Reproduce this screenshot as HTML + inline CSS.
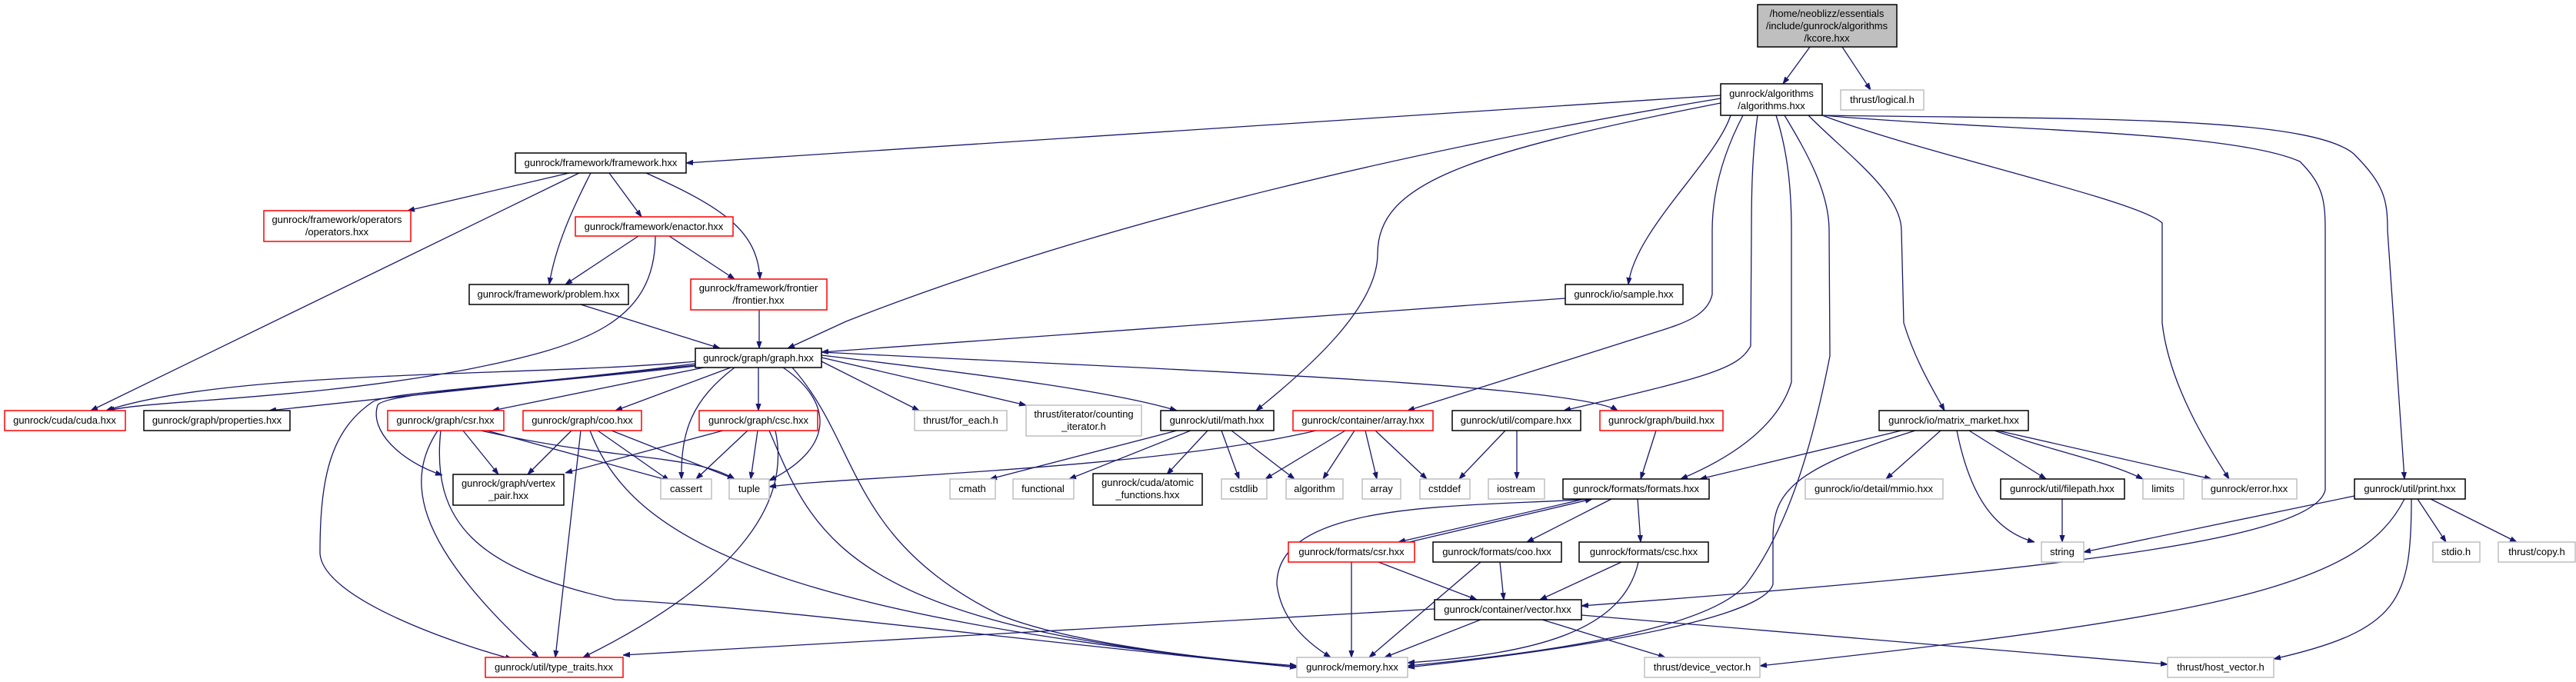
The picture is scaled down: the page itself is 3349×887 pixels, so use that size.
<!DOCTYPE html>
<html><head><meta charset="utf-8"><style>
html,body{margin:0;padding:0;background:#fff}
svg{display:block}
text{font-family:"Liberation Sans",sans-serif;font-size:13px;fill:#000}
.e{fill:none;stroke:#191970;stroke-width:1.3}
.b{fill:#fff;stroke:#000;stroke-width:1.5}
.r{fill:#fff;stroke:#ff0000;stroke-width:1.5}
.g{fill:#fff;stroke:#bfbfbf;stroke-width:1.5}
</style></head><body>
<svg width="3349" height="887" viewBox="0 0 3349 887" xmlns="http://www.w3.org/2000/svg">
<defs><marker id="a" viewBox="0 0 10 10" refX="10" refY="5" markerWidth="9" markerHeight="9" markerUnits="userSpaceOnUse" orient="auto"><path d="M0,1.5 L10,5 L0,8.5z" fill="#191970" stroke="#191970"/></marker></defs>
<g marker-end="url(#a)">
<path class="e" d="M2353,61 L2318,109"/>
<path class="e" d="M2395,61 L2432,117"/>
<path class="e" d="M2237,124 L892,212"/>
<path class="e" d="M2237,128 C1800,200 1400,300 1100,418 L1024,453"/>
<path class="e" d="M2237,134 C1900,200 1791,240 1791,330 C1791,400 1700,480 1633,534"/>
<path class="e" d="M2250,150 C2230,210 2125,300 2117,370"/>
<path class="e" d="M2266,150 C2240,200 2226,250 2226,300 L2226,383 C2220,410 2190,420 2159,430 L1830,534"/>
<path class="e" d="M2285,150 C2278,200 2277,250 2277,300 L2276,450 C2260,480 2220,490 2033,534"/>
<path class="e" d="M2309,150 C2325,200 2329,250 2329,300 L2329,497 C2310,560 2240,600 2185,623"/>
<path class="e" d="M2320,150 C2350,200 2378,250 2378,300 L2379,463 C2360,560 2330,680 2270,760 C2220,820 2000,850 1830,866"/>
<path class="e" d="M2351,150 C2400,200 2472,250 2472,300 L2475,420 C2490,470 2515,510 2528,534"/>
<path class="e" d="M2369,150 C2500,200 2780,260 2811,290 L2811,420 C2820,500 2870,580 2898,623"/>
<path class="e" d="M2369,150 C2600,170 2900,170 2990,210 C3020,240 3023,260 3023,300 L3023,637 C3010,700 2700,740 2056,788"/>
<path class="e" d="M2369,150 C2700,155 3000,150 3060,200 C3100,240 3104,260 3104,300 L3126,623"/>
<path class="e" d="M740,225 L530,274"/>
<path class="e" d="M753,225 L118,534"/>
<path class="e" d="M768,225 C745,270 722,320 714,370"/>
<path class="e" d="M792,225 L834,282"/>
<path class="e" d="M840,225 C940,270 985,300 988,363"/>
<path class="e" d="M830,307 L735,370"/>
<path class="e" d="M870,307 L955,363"/>
<path class="e" d="M852,307 C852,420 760,450 610,480 C400,520 200,520 140,534"/>
<path class="e" d="M755,396 L936,453"/>
<path class="e" d="M987,403 L987,453"/>
<path class="e" d="M2035,388 L1068,458"/>
<path class="e" d="M904,470 C700,490 300,480 138,534"/>
<path class="e" d="M904,475 L350,534"/>
<path class="e" d="M915,478 L640,534"/>
<path class="e" d="M950,478 L800,534"/>
<path class="e" d="M986,478 L986,534"/>
<path class="e" d="M955,478 C900,520 885,560 886,623"/>
<path class="e" d="M1018,478 C1080,520 1090,580 1000,625"/>
<path class="e" d="M904,476 C700,500 500,510 491,527 C480,560 520,600 575,618"/>
<path class="e" d="M904,473 C700,500 500,510 484,523 C430,560 416,620 416,720 C420,780 600,840 666,857"/>
<path class="e" d="M1030,478 C1120,580 1100,700 1300,800 C1400,840 1600,860 1686,866"/>
<path class="e" d="M1068,470 L1195,534"/>
<path class="e" d="M1068,465 L1334,527"/>
<path class="e" d="M1068,462 C1300,490 1450,510 1530,534"/>
<path class="e" d="M1068,458 C1500,480 2050,500 2103,534"/>
<path class="e" d="M602,560 L648,617"/>
<path class="e" d="M633,560 L870,625"/>
<path class="e" d="M625,560 C800,600 900,590 955,623"/>
<path class="e" d="M569,560 C530,620 530,700 700,855"/>
<path class="e" d="M573,560 C560,680 620,740 800,780 C1000,790 1300,830 1686,868"/>
<path class="e" d="M743,560 L686,617"/>
<path class="e" d="M755,560 L722,855"/>
<path class="e" d="M777,560 L870,625"/>
<path class="e" d="M795,560 L955,623"/>
<path class="e" d="M767,560 C820,700 1000,800 1686,868"/>
<path class="e" d="M940,560 L735,615"/>
<path class="e" d="M972,560 L905,623"/>
<path class="e" d="M985,560 L976,623"/>
<path class="e" d="M1008,560 C1030,660 950,760 758,855"/>
<path class="e" d="M1000,560 C1060,700 1100,820 1686,866"/>
<path class="e" d="M1530,560 L1287,623"/>
<path class="e" d="M1548,560 L1390,623"/>
<path class="e" d="M1570,560 L1517,617"/>
<path class="e" d="M1588,560 L1611,623"/>
<path class="e" d="M1601,560 L1683,623"/>
<path class="e" d="M1711,560 C1500,610 1100,620 1000,633"/>
<path class="e" d="M1749,560 L1645,623"/>
<path class="e" d="M1761,560 L1720,623"/>
<path class="e" d="M1775,560 L1790,623"/>
<path class="e" d="M1788,560 L1855,623"/>
<path class="e" d="M1957,560 L1897,623"/>
<path class="e" d="M1972,560 L1972,623"/>
<path class="e" d="M2153,560 L2133,623"/>
<path class="e" d="M2472,560 L2210,623"/>
<path class="e" d="M2490,560 C2330,610 2305,640 2305,700 L2305,760 C2290,810 2000,850 1830,868"/>
<path class="e" d="M2523,560 L2452,623"/>
<path class="e" d="M2544,560 C2560,640 2590,690 2645,705"/>
<path class="e" d="M2560,560 L2660,623"/>
<path class="e" d="M2593,560 C2680,590 2740,600 2786,623"/>
<path class="e" d="M2597,560 L2875,623"/>
<path class="e" d="M2681,649 L2681,705"/>
<path class="e" d="M3061,645 L2709,718"/>
<path class="e" d="M3126,649 C3070,760 2900,800 2288,866"/>
<path class="e" d="M3135,649 C3135,780 3120,820 2956,857"/>
<path class="e" d="M3143,649 L3180,705"/>
<path class="e" d="M3160,649 L3272,705"/>
<path class="e" d="M2060,649 L1818,705"/>
<path class="e" d="M1832,705 L2070,649"/>
<path class="e" d="M2070,649 C1900,660 1660,650 1660,760 C1665,800 1690,830 1730,855"/>
<path class="e" d="M2095,649 L1985,705"/>
<path class="e" d="M2129,649 L2133,705"/>
<path class="e" d="M1757,731 L1757,855"/>
<path class="e" d="M1792,731 L1920,780"/>
<path class="e" d="M1925,731 L1780,855"/>
<path class="e" d="M1950,731 L1955,780"/>
<path class="e" d="M2108,731 L2002,780"/>
<path class="e" d="M2130,731 C2110,820 2000,850 1830,862"/>
<path class="e" d="M1865,792 L810,852"/>
<path class="e" d="M1925,806 L1800,855"/>
<path class="e" d="M2005,806 L2165,855"/>
<path class="e" d="M2056,800 L2818,864"/>
</g>
<g>
<rect x="2285" y="6" width="181" height="55" fill="#bfbfbf" stroke="#000" stroke-width="1.5"/>
<text x="2375" y="22" text-anchor="middle">/home/neoblizz/essentials</text>
<text x="2375" y="38" text-anchor="middle">/include/gunrock/algorithms</text>
<text x="2375" y="54" text-anchor="middle">/kcore.hxx</text>
<rect class="b" x="2237" y="109" width="132" height="41"/><text x="2303" y="126" text-anchor="middle">gunrock/algorithms</text><text x="2303" y="142" text-anchor="middle">/algorithms.hxx</text>
<rect class="g" x="2393" y="117" width="108" height="26"/><text x="2447" y="134" text-anchor="middle">thrust/logical.h</text>
<rect class="b" x="670" y="199" width="222" height="26"/><text x="781" y="216" text-anchor="middle">gunrock/framework/framework.hxx</text>
<rect class="r" x="343" y="274" width="191" height="40"/><text x="438" y="290" text-anchor="middle">gunrock/framework/operators</text><text x="438" y="306" text-anchor="middle">/operators.hxx</text>
<rect class="r" x="748" y="282" width="205" height="25"/><text x="850" y="299" text-anchor="middle">gunrock/framework/enactor.hxx</text>
<rect class="b" x="610" y="370" width="207" height="26"/><text x="713" y="387" text-anchor="middle">gunrock/framework/problem.hxx</text>
<rect class="r" x="898" y="363" width="177" height="40"/><text x="986" y="379" text-anchor="middle">gunrock/framework/frontier</text><text x="986" y="395" text-anchor="middle">/frontier.hxx</text>
<rect class="b" x="2035" y="370" width="153" height="26"/><text x="2111" y="387" text-anchor="middle">gunrock/io/sample.hxx</text>
<rect class="b" x="904" y="453" width="164" height="25"/><text x="986" y="470" text-anchor="middle">gunrock/graph/graph.hxx</text>
<rect class="r" x="6" y="534" width="157" height="26"/><text x="84" y="551" text-anchor="middle">gunrock/cuda/cuda.hxx</text>
<rect class="b" x="187" y="534" width="190" height="26"/><text x="282" y="551" text-anchor="middle">gunrock/graph/properties.hxx</text>
<rect class="r" x="504" y="534" width="151" height="26"/><text x="579" y="551" text-anchor="middle">gunrock/graph/csr.hxx</text>
<rect class="r" x="680" y="534" width="154" height="26"/><text x="757" y="551" text-anchor="middle">gunrock/graph/coo.hxx</text>
<rect class="r" x="909" y="534" width="154" height="26"/><text x="986" y="551" text-anchor="middle">gunrock/graph/csc.hxx</text>
<rect class="g" x="1189" y="534" width="120" height="26"/><text x="1249" y="551" text-anchor="middle">thrust/for_each.h</text>
<rect class="g" x="1334" y="527" width="150" height="40"/><text x="1409" y="543" text-anchor="middle">thrust/iterator/counting</text><text x="1409" y="559" text-anchor="middle">_iterator.h</text>
<rect class="b" x="1509" y="534" width="147" height="26"/><text x="1582" y="551" text-anchor="middle">gunrock/util/math.hxx</text>
<rect class="r" x="1681" y="534" width="182" height="26"/><text x="1772" y="551" text-anchor="middle">gunrock/container/array.hxx</text>
<rect class="b" x="1888" y="534" width="167" height="26"/><text x="1971" y="551" text-anchor="middle">gunrock/util/compare.hxx</text>
<rect class="r" x="2080" y="534" width="160" height="26"/><text x="2160" y="551" text-anchor="middle">gunrock/graph/build.hxx</text>
<rect class="b" x="2443" y="534" width="194" height="26"/><text x="2540" y="551" text-anchor="middle">gunrock/io/matrix_market.hxx</text>
<rect class="b" x="589" y="617" width="144" height="40"/><text x="661" y="633" text-anchor="middle">gunrock/graph/vertex</text><text x="661" y="649" text-anchor="middle">_pair.hxx</text>
<rect class="g" x="859" y="623" width="66" height="26"/><text x="892" y="640" text-anchor="middle">cassert</text>
<rect class="g" x="948" y="623" width="52" height="26"/><text x="974" y="640" text-anchor="middle">tuple</text>
<rect class="g" x="1235" y="623" width="59" height="26"/><text x="1264" y="640" text-anchor="middle">cmath</text>
<rect class="g" x="1317" y="623" width="79" height="26"/><text x="1356" y="640" text-anchor="middle">functional</text>
<rect class="b" x="1421" y="616" width="142" height="41"/><text x="1492" y="632" text-anchor="middle">gunrock/cuda/atomic</text><text x="1492" y="648" text-anchor="middle">_functions.hxx</text>
<rect class="g" x="1588" y="623" width="59" height="26"/><text x="1617" y="640" text-anchor="middle">cstdlib</text>
<rect class="g" x="1672" y="623" width="74" height="26"/><text x="1709" y="640" text-anchor="middle">algorithm</text>
<rect class="g" x="1771" y="623" width="50" height="26"/><text x="1796" y="640" text-anchor="middle">array</text>
<rect class="g" x="1846" y="623" width="65" height="26"/><text x="1878" y="640" text-anchor="middle">cstddef</text>
<rect class="g" x="1935" y="623" width="73" height="26"/><text x="1971" y="640" text-anchor="middle">iostream</text>
<rect class="b" x="2032" y="623" width="190" height="26"/><text x="2127" y="640" text-anchor="middle">gunrock/formats/formats.hxx</text>
<rect class="g" x="2347" y="623" width="179" height="26"/><text x="2436" y="640" text-anchor="middle">gunrock/io/detail/mmio.hxx</text>
<rect class="b" x="2601" y="623" width="161" height="26"/><text x="2681" y="640" text-anchor="middle">gunrock/util/filepath.hxx</text>
<rect class="g" x="2786" y="623" width="53" height="26"/><text x="2812" y="640" text-anchor="middle">limits</text>
<rect class="g" x="2863" y="623" width="123" height="26"/><text x="2924" y="640" text-anchor="middle">gunrock/error.hxx</text>
<rect class="b" x="3061" y="623" width="144" height="26"/><text x="3133" y="640" text-anchor="middle">gunrock/util/print.hxx</text>
<rect class="r" x="1675" y="705" width="164" height="26"/><text x="1757" y="722" text-anchor="middle">gunrock/formats/csr.hxx</text>
<rect class="b" x="1863" y="705" width="167" height="26"/><text x="1946" y="722" text-anchor="middle">gunrock/formats/coo.hxx</text>
<rect class="b" x="2053" y="705" width="168" height="26"/><text x="2137" y="722" text-anchor="middle">gunrock/formats/csc.hxx</text>
<rect class="g" x="2654" y="705" width="55" height="26"/><text x="2681" y="722" text-anchor="middle">string</text>
<rect class="g" x="3163" y="705" width="61" height="26"/><text x="3193" y="722" text-anchor="middle">stdio.h</text>
<rect class="g" x="3248" y="705" width="100" height="26"/><text x="3298" y="722" text-anchor="middle">thrust/copy.h</text>
<rect class="b" x="1865" y="780" width="191" height="26"/><text x="1960" y="797" text-anchor="middle">gunrock/container/vector.hxx</text>
<rect class="r" x="631" y="855" width="179" height="26"/><text x="720" y="872" text-anchor="middle">gunrock/util/type_traits.hxx</text>
<rect class="g" x="1686" y="855" width="144" height="26"/><text x="1758" y="872" text-anchor="middle">gunrock/memory.hxx</text>
<rect class="g" x="2138" y="855" width="150" height="26"/><text x="2213" y="872" text-anchor="middle">thrust/device_vector.h</text>
<rect class="g" x="2818" y="855" width="138" height="26"/><text x="2887" y="872" text-anchor="middle">thrust/host_vector.h</text>
</g>
</svg>
</body></html>
